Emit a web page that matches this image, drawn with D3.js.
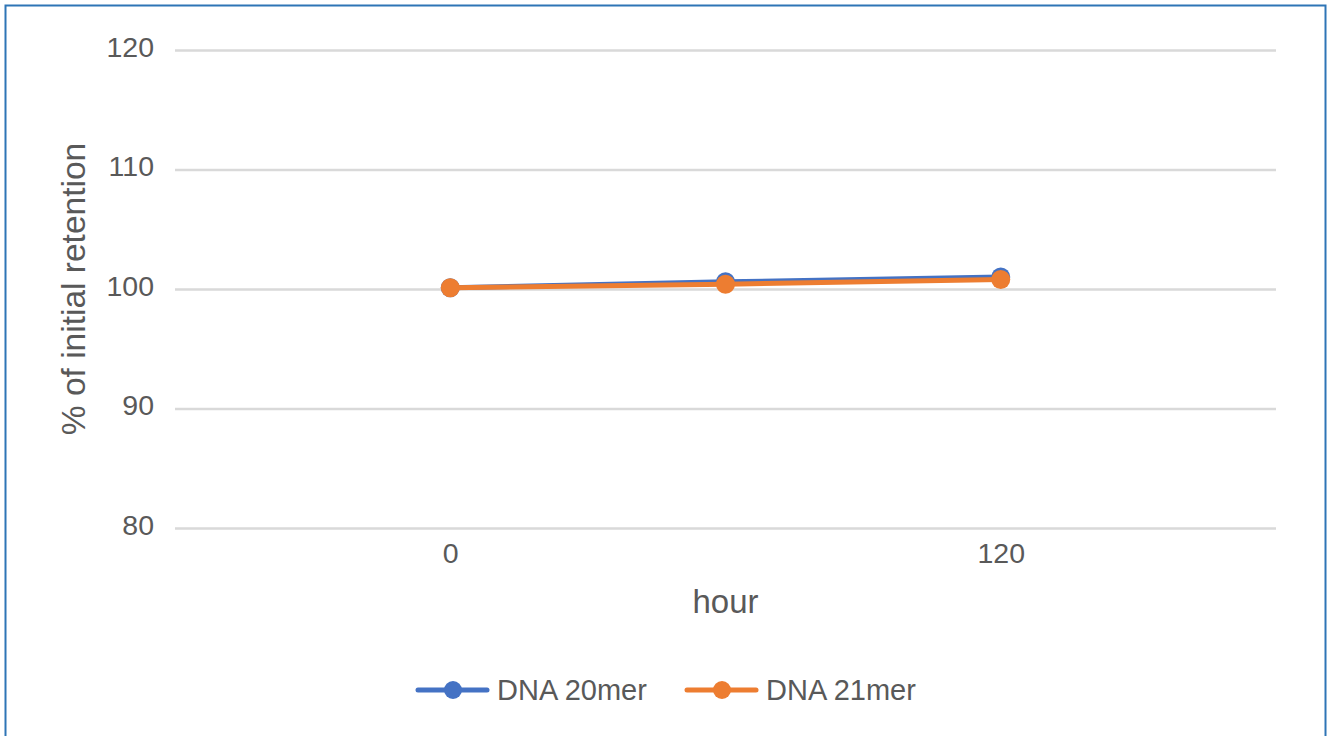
<!DOCTYPE html>
<html><head><meta charset="utf-8">
<script src="https://cdn.jsdelivr.net/npm/d3@7"></script>
<style>
html,body{margin:0;padding:0;background:#fff;}
svg{display:block;font-family:"Liberation Sans",Arial,sans-serif;}
</style></head>
<body>
<svg id="chart" width="1333" height="736"></svg>
<script>
const hours = [0, 60, 120];
const seriesNames = ["DNA 20mer", "DNA 21mer"];
const dna20 = [100.1, 100.6, 101.0];
const dna21 = [100.1, 100.4, 100.8];
const yTicks = [80, 90, 100, 110, 120];
const xTicks = [0, 120];
const colors = ["#4472C4", "#ED7D31"];

const svg = d3.select("#chart");
const m = {left: 175, right: 1276, top: 50, bottom: 528};

svg.append("rect").attr("x", 5.5).attr("y", 5.5).attr("width", 1320).attr("height", 740)
  .attr("fill", "#fff").attr("stroke", "#2E75B6").attr("stroke-width", 2);

const x = d3.scaleLinear().domain([-60, 180]).range([m.left, m.right]);
const y = d3.scaleLinear().domain([80, 120]).range([m.bottom, m.top]);

const yAxis = d3.axisLeft(y).tickValues(yTicks).tickSize(-(m.right - m.left)).tickPadding(21);
const gy = svg.append("g").attr("transform", `translate(${m.left},0)`).call(yAxis);
gy.select(".domain").remove();
gy.selectAll(".tick line").attr("stroke", "#D9D9D9").attr("stroke-width", 2.5);
gy.selectAll(".tick text").attr("fill", "#595959").style("font-size", "28.5px").attr("dy", "0.22em");

const xAxis = d3.axisBottom(x).tickValues(xTicks).tickSize(0).tickPadding(15);
const gx = svg.append("g").attr("transform", `translate(0,${m.bottom})`).call(xAxis);
gx.select(".domain").remove();
gx.selectAll(".tick text").attr("fill", "#595959").style("font-size", "28.5px").attr("dy", "0.71em");

svg.append("text").attr("x", (m.left + m.right) / 2).attr("y", 613).attr("text-anchor", "middle")
  .attr("fill", "#595959").style("font-size", "33px").text("hour");
svg.append("text").attr("transform", `translate(85,${(m.top + m.bottom) / 2}) rotate(-90)`)
  .attr("text-anchor", "middle").attr("fill", "#595959").style("font-size", "33.5px").text("% of initial retention");

const series = [dna20, dna21];
const line = d3.line().x((d, i) => x(hours[i])).y(d => y(d));
series.forEach((s, k) => {
  const g = svg.append("g");
  g.append("path").datum(s).attr("d", line).attr("fill", "none")
    .attr("stroke", colors[k]).attr("stroke-width", 5).attr("stroke-linecap", "round");
  g.selectAll("circle").data(s).join("circle")
    .attr("cx", (d, i) => x(hours[i])).attr("cy", d => y(d)).attr("r", 9.5)
    .attr("fill", colors[k]);
});

const legX = [418, 687];
seriesNames.forEach((n, k) => {
  const g = svg.append("g").attr("transform", `translate(${legX[k]},690)`);
  g.append("line").attr("x1", 0).attr("x2", 69).attr("y1", 0).attr("y2", 0)
    .attr("stroke", colors[k]).attr("stroke-width", 5).attr("stroke-linecap", "round");
  g.append("circle").attr("cx", 35).attr("cy", 0).attr("r", 9).attr("fill", colors[k]);
  g.append("text").attr("x", 79).attr("y", 0).attr("dy", "0.36em").attr("fill", "#595959")
    .style("font-size", "29px").text(n);
});
</script>
</body></html>
